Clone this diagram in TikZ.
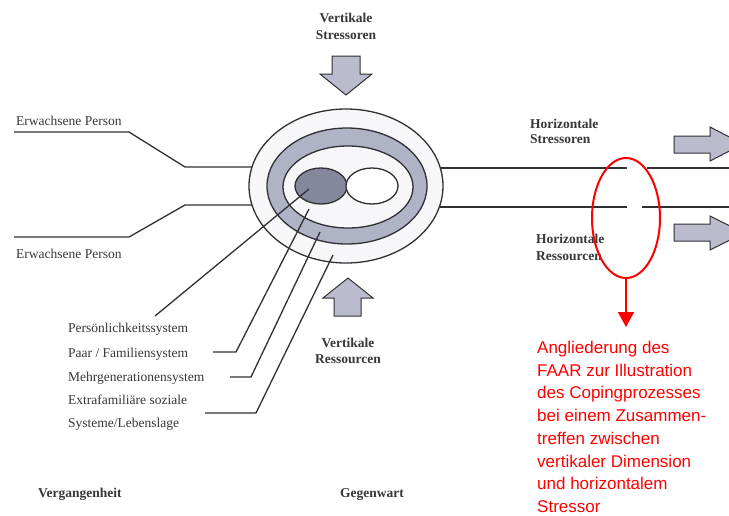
\documentclass[tikz,border=0pt]{standalone}
\usepackage{fontspec}
\setmainfont{Liberation Serif}
\newfontfamily\notesans{Liberation Sans}
\usetikzlibrary{shapes.geometric,arrows.meta}
\definecolor{ink}{RGB}{48,48,52}
\definecolor{txt}{RGB}{55,55,60}
\definecolor{ringgray}{RGB}{176,178,198}
\definecolor{coregray}{RGB}{132,136,156}
\definecolor{arrowgray}{RGB}{186,188,206}
\definecolor{paleband}{RGB}{247,247,250}
\definecolor{alert}{RGB}{255,0,0}

\begin{document}
\begin{tikzpicture}[x=1pt,y=-1pt,
  wire/.style={draw=ink,line width=1.3pt},
  oval/.style={ellipse,draw=ink,line width=1.3pt,inner sep=0pt},
  blockarrow/.style={draw=ink,line width=1pt,fill=arrowgray,line join=miter},
  txtlabel/.style={text=txt,font=\fontsize{13.5}{16}\selectfont,inner sep=0pt},
  heading/.style={text=txt,font=\fontsize{13.5}{16}\selectfont\bfseries,inner sep=0pt},
]
\clip (0,0) rectangle (729,515);
\fill[white] (0,0) rectangle (729,515);

% centre of the family system
\coordinate (hub) at (346,186);

% the two adult lines entering from the left
\coordinate (a1) at (14,132);  \coordinate (a1k) at (129,132); \coordinate (a1j) at (185,167);
\coordinate (a2) at (14,237);  \coordinate (a2k) at (129,237); \coordinate (a2j) at (185,205);
\draw[wire] (a1) -- (a1k) -- (a1j) -- (a1j -| hub);
\draw[wire] (a2) -- (a2k) -- (a2j) -- (a2j -| hub);

% horizontal time lines to the right, with a break
\coordinate (r1a) at (627,168); \coordinate (r1b) at (647,168); \coordinate (r1e) at (729,168);
\coordinate (r2a) at (627,207); \coordinate (r2b) at (642,207); \coordinate (r2e) at (729,207);
\draw[wire] (r1a -| hub) -- (r1a);
\draw[wire] (r1b) -- (r1e);
\draw[wire] (r2a -| hub) -- (r2a);
\draw[wire] (r2b) -- (r2e);

% nested system ellipses
\node[oval,fill=paleband,minimum width=194,minimum height=154] (outer) at (hub) {};
\node[oval,fill=ringgray,minimum width=160,minimum height=116] (ring) at (347,186) {};
\node[oval,fill=paleband,minimum width=130,minimum height=82] (inner) at (348,187) {};
\node[oval,fill=coregray,minimum width=52,minimum height=36] (self) at (321,186) {};
\node[oval,fill=white,minimum width=52,minimum height=36] (partner) at (372,186) {};

% left labels
\node[txtlabel,anchor=base west] (adult1) at (16,125) {Erwachsene Person};
\node[txtlabel,anchor=base west] (adult2) at (16,258) {Erwachsene Person};

% system level labels
\node[txtlabel,anchor=base west] (lvl1) at (68,332) {Persönlichkeitssystem};
\node[txtlabel,anchor=base west] (lvl2) at (68,357) {Paar / Familiensystem};
\node[txtlabel,anchor=base west] (lvl3) at (68,381) {Mehrgenerationensystem};
\node[txtlabel,anchor=base west] (lvl4a) at (68,404) {Extrafamiliäre soziale};
\node[txtlabel,anchor=base west] (lvl4b) at (68,427) {Systeme/Lebenslage};

% pointer lines from each system level
\coordinate (p1s) at (309,189); \coordinate (p1e) at (155,316);
\coordinate (p2s) at (309,209); \coordinate (p2k) at (236,352); \coordinate (p2e) at (213,352);
\coordinate (p3s) at (320,232); \coordinate (p3k) at (251,377); \coordinate (p3e) at (230,377);
\coordinate (p4s) at (333,255); \coordinate (p4k) at (256,413); \coordinate (p4e) at (205,413);
\draw[wire] (p1s) -- (p1e);
\draw[wire] (p2s) -- (p2k) -- (p2e);
\draw[wire] (p3s) -- (p3k) -- (p3e);
\draw[wire] (p4s) -- (p4k) -- (p4e);

% vertical stressors and resources
\draw[blockarrow] (332,56) -- (360,56) -- (360,74) -- (372,74) -- (346,95) -- (320,74) -- (332,74) -- cycle;
\draw[blockarrow] (334,316) -- (361,316) -- (361,298) -- (373,298) -- (348,278) -- (323,298) -- (334,298) -- cycle;
\node[heading,anchor=base] (vs1) at (346,22.5) {Vertikale};
\node[heading,anchor=base] (vs2) at (346,39) {Stressoren};
\node[heading,anchor=base] (vr1) at (348,347) {Vertikale};
\node[heading,anchor=base] (vr2) at (348,363) {Ressourcen};

% horizontal stressors and resources
\draw[blockarrow] (674,136) -- (710,136) -- (710,127) -- (743,144) -- (710,161) -- (710,153) -- (674,153) -- cycle;
\draw[blockarrow] (674,224) -- (710,224) -- (710,216) -- (744,233) -- (710,250) -- (710,241) -- (674,241) -- cycle;
\node[heading,anchor=base west] (hs1) at (530,128) {Horizontale};
\node[heading,anchor=base west] (hs2) at (530,143) {Stressoren};
\node[heading,anchor=base west] (hr1) at (536,243) {Horizontale};
\node[heading,anchor=base west] (hr2) at (536,260) {Ressourcen};

% time axis
\node[heading,anchor=base west] (past) at (38,497) {Vergangenheit};
\node[heading,anchor=base west] (present) at (340,497) {Gegenwart};

% FAAR annotation
\node[ellipse,draw=alert,line width=2pt,minimum width=68,minimum height=120,inner sep=0pt] (faar) at (626,218) {};
\coordinate (faartip) at (626,327);
\draw[alert,line width=1.6pt,-{Triangle[length=15pt,width=16pt]}] (faar.south) -- (faartip);
\node[anchor=north west,inner sep=0pt,text=alert,align=left,
      font=\notesans\fontsize{17}{22.7}\selectfont] (note) at (537,341)
  {Angliederung des\\FAAR zur Illustration\\des Copingprozesses\\bei einem Zusammen-\\treffen zwischen\\vertikaler Dimension\\und horizontalem\\Stressor};
\end{tikzpicture}
\end{document}
